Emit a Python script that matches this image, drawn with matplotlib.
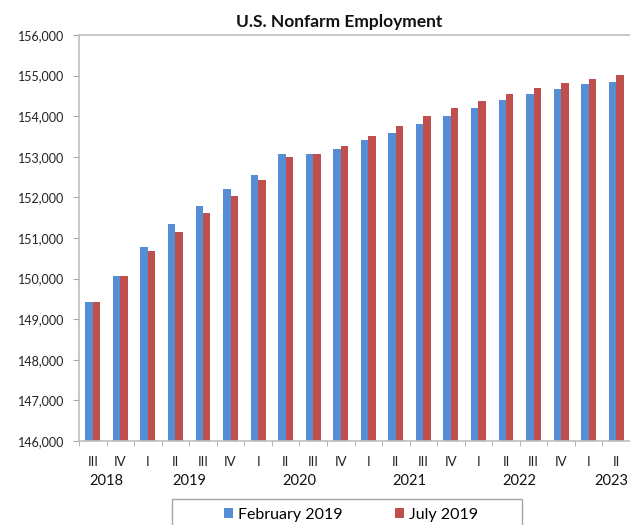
import matplotlib
matplotlib.use("Agg")
import matplotlib.pyplot as plt
import numpy as np
from matplotlib.ticker import FuncFormatter, FixedLocator
from matplotlib.patches import Patch, Rectangle
import matplotlib.transforms as mtransforms

plt.rcParams['font.family'] = ['Lato', 'DejaVu Sans']

quarters = ["III", "IV", "I", "II", "III", "IV", "I", "II", "III", "IV",
            "I", "II", "III", "IV", "I", "II", "III", "IV", "I", "II"]
years = ["2018", "2019", "2020", "2021", "2022", "2023"]
year_groups = [(0, 1), (2, 5), (6, 9), (10, 13), (14, 17), (18, 19.65)]

feb_2019 = [149420, 150066, 150775, 151335, 151799, 152208, 152559, 153059, 153059, 153189,
            153409, 153598, 153819, 154005, 154194, 154390, 154554, 154676, 154789, 154838]
jul_2019 = [149420, 150066, 150681, 151143, 151620, 152029, 152436, 153000, 153074, 153255,
            153515, 153770, 154005, 154194, 154365, 154537, 154701, 154824, 154922, 155010]

series_names = ["February 2019", "July 2019"]
colors = ["#558ED5", "#C0504D"]

fig = plt.figure(figsize=(6.3, 5.25), dpi=100)
ax = fig.add_axes([79/630, 1-441/525, 551/630, 406/525])

x = np.arange(len(quarters))
w = 0.27
ax.bar(x - w/2, feb_2019, width=w, color=colors[0], edgecolor="none")
ax.bar(x + w/2, jul_2019, width=w, color=colors[1], edgecolor="none")

ax.set_xlim(-0.5, len(quarters) - 0.5)
ax.set_ylim(146000, 156000)
ax.set_yticks(np.arange(146000, 156001, 1000))
ax.yaxis.set_major_formatter(FuncFormatter(lambda v, p: f"{int(v):,}"))
ax.tick_params(axis='y', direction='out', length=4.3, color='#A6A6A6',
               labelsize=9, pad=6.5, labelcolor='#222222')

ax.set_xticks(x)
ax.set_xticklabels([])
ax.tick_params(axis='x', which='major', length=0)
ax.xaxis.set_minor_locator(FixedLocator(np.arange(-0.5, len(quarters), 1.0)))
ax.tick_params(axis='x', which='minor', direction='out', length=3.6, color='#A6A6A6')

for s in ['left', 'bottom', 'top']:
    ax.spines[s].set_color('#BFBFBF')
    ax.spines[s].set_linewidth(1.2)
ax.spines['right'].set_visible(False)

trans = mtransforms.blended_transform_factory(ax.transData, fig.transFigure)
for i, q in enumerate(quarters):
    ax.text(i, 1-462/525, q, transform=trans, ha='center', va='center',
            fontsize=9.5, color='#222222')
for (a, b), yr in zip(year_groups, years):
    ax.text((a + b)/2, 1-481/525, yr, transform=trans, ha='center', va='center',
            fontsize=10.5, color='#111111', clip_on=False)

fig.text(339/630, 1-22/525, "U.S. Nonfarm Employment", ha='center', va='center',
         fontsize=12.5, fontweight='bold', color='#111111')

# legend frame (cut by the image bottom, as in the reference)
fig.patches.append(Rectangle((172/630, 1-535/525), 350/630, 36/525,
                             transform=fig.transFigure, facecolor='white',
                             edgecolor='#A6A6A6', linewidth=1.0, zorder=1))
handles = [Patch(facecolor=colors[0]), Patch(facecolor=colors[1])]
leg = fig.legend(handles, series_names, loc='center left',
                 bbox_to_anchor=(224/630, 1-515/525), bbox_transform=fig.transFigure,
                 ncol=2, frameon=False, fontsize=11.5,
                 handlelength=0.56, handleheight=0.56, handletextpad=0.3,
                 columnspacing=3.3, borderpad=0, borderaxespad=0)
leg.set_zorder(3)

fig.savefig("out.png", dpi=100)
